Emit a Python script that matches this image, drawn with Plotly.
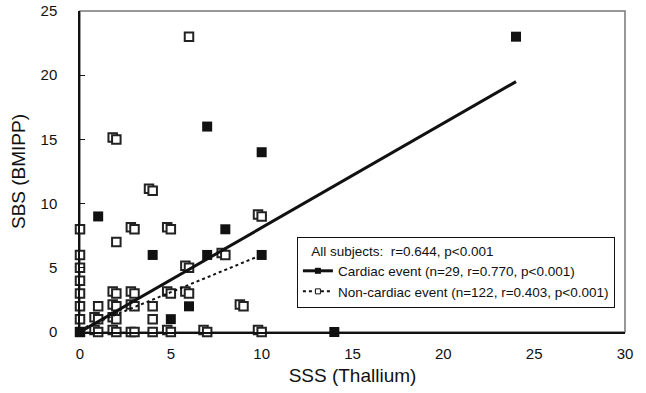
import plotly.graph_objects as go

# Cardiac event (filled squares)
card_x = [24, 7, 10, 1, 8, 4, 7, 10, 6, 5, 14, 0]
card_y = [23, 16, 14, 9, 8, 6, 6, 6, 2, 1, 0, 0]

# Non-cardiac event (open squares); slightly offset pairs = overlapping subjects
non_x = [6,
         1.8, 2,
         3.8, 4,
         -0.2, 0, 2.8, 3, 4.8, 5,
         2,
         9.8, 10,
         -0.2, 0, 7.8, 8,
         -0.2, 0, 5.8, 6,
         0,
         -0.2, 0, 1.8, 2, 2.8, 3, 4.8, 5, 5.8, 6,
         0, 1, 1.8, 2, 2.8, 3, 4, 8.8, 9,
         -0.2, 0, 0.8, 1, 1.8, 2, 4,
         -0.2, 0, 0.8, 1, 1.8, 2, 2.8, 3, 4, 4.8, 5, 6.8, 7, 9.8, 10]
non_y = [23,
         15.15, 15,
         11.15, 11,
         8.15, 8, 8.15, 8, 8.15, 8,
         7,
         9.15, 9,
         6.15, 6, 6.15, 6,
         5.15, 5, 5.15, 5,
         4,
         3.15, 3, 3.15, 3, 3.15, 3, 3.15, 3, 3.15, 3,
         2, 2, 2.15, 2, 2.15, 2, 2, 2.15, 2,
         1.15, 1, 1.15, 1, 1.15, 1, 1,
         0.15, 0, 0.15, 0, 0.15, 0, 0, 0, 0, 0.15, 0, 0.15, 0, 0.15, 0]

# Regression lines
card_fit_x = [0, 24]
card_fit_y = [0, 19.5]
non_fit_x = [0, 10]
non_fit_y = [0.2, 6.0]

x_ticks = [0, 5, 10, 15, 20, 25, 30]
y_ticks = [0, 5, 10, 15, 20, 25]

FONT = "Arial, Liberation Sans, Helvetica, sans-serif"

fig = go.Figure()

fig.add_trace(go.Scatter(
    x=non_x, y=non_y, mode="markers", showlegend=False, cliponaxis=False,
    marker=dict(symbol="square", size=8.5, color="white",
                line=dict(color="#222222", width=2))))
fig.add_trace(go.Scatter(
    x=card_x, y=card_y, mode="markers", showlegend=False, cliponaxis=False,
    marker=dict(symbol="square", size=10, color="#111111",
                line=dict(width=0))))
fig.add_trace(go.Scatter(
    x=card_fit_x, y=card_fit_y, mode="lines", showlegend=False,
    line=dict(color="#111111", width=3)))
fig.add_trace(go.Scatter(
    x=non_fit_x, y=non_fit_y, mode="lines", showlegend=False,
    line=dict(color="#111111", width=2, dash="dot")))

# legend entries
fig.add_trace(go.Scatter(
    x=[None], y=[None], mode="lines+markers",
    name="Cardiac event (n=29, r=0.770, p<0.001)",
    line=dict(color="#111111", width=3),
    marker=dict(symbol="square", size=6, color="#111111")))
fig.add_trace(go.Scatter(
    x=[None], y=[None], mode="lines+markers",
    name="Non-cardiac event (n=122, r=0.403, p<0.001)",
    line=dict(color="#111111", width=2, dash="dot"),
    marker=dict(symbol="square", size=5, color="white",
                line=dict(color="#111111", width=1))))

fig.update_layout(
    width=646, height=393,
    margin=dict(l=80, r=21, t=11, b=61, autoexpand=False),
    paper_bgcolor="white", plot_bgcolor="white",
    font=dict(family=FONT, color="#111111"),
    showlegend=True,
    legend=dict(
        x=0.398, y=0.296, xanchor="left", yanchor="top",
        bgcolor="white", bordercolor="#111111", borderwidth=1,
        font=dict(size=13.5, family=FONT, color="#111111"),
        title=dict(text="\u00a0\u00a0\u00a0All subjects:\u00a0\u00a0r=0.644, p<0.001", side="top",
                   font=dict(size=13.5, family=FONT, color="#111111")),
        tracegroupgap=0, itemwidth=30,
    ),
    shapes=[dict(type="rect", xref="paper", yref="paper", x0=0, x1=1, y0=0, y1=1,
                 line=dict(color="#777777", width=1.5), layer="below")],
)

fig.update_xaxes(
    range=[0, 30], tickvals=x_ticks, ticktext=[str(v) for v in x_ticks],
    showgrid=False, zeroline=False, showline=True, linecolor="#111111", linewidth=1.5,
    ticks="", ticklabelstandoff=7, automargin=False,
    tickfont=dict(size=15, family=FONT, color="#111111"),
    title=dict(text="SSS (Thallium)", font=dict(size=19, family=FONT, color="#111111"), standoff=8),
)
fig.update_yaxes(
    range=[0, 25], tickvals=y_ticks, ticktext=[str(v) for v in y_ticks],
    showgrid=False, zeroline=False, showline=True, linecolor="#111111", linewidth=1.5,
    ticks="inside", ticklen=5, tickcolor="#111111", ticklabelstandoff=18, automargin=False,
    tickfont=dict(size=15, family=FONT, color="#111111"),
    title=dict(text="SBS (BMIPP)", font=dict(size=19, family=FONT, color="#111111"), standoff=10),
)

fig.write_html("out.html")
